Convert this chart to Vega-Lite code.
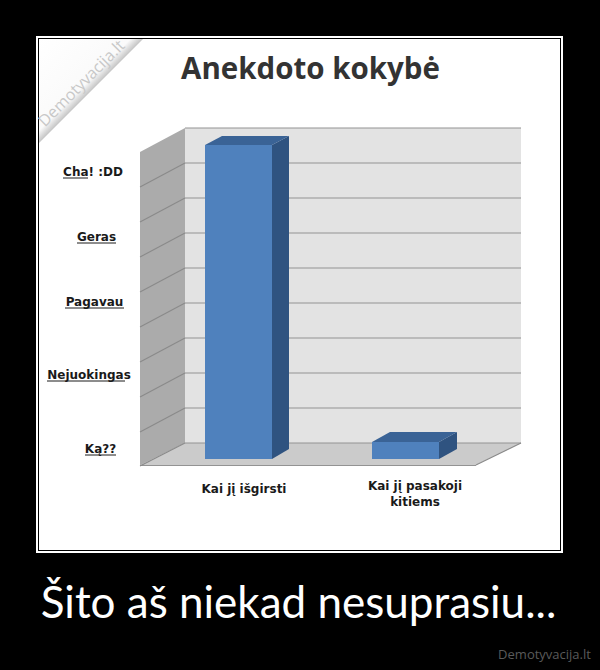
{"$schema":"https://vega.github.io/schema/vega-lite/v6.json","width":600,"height":670,"padding":0,"autosize":{"type":"fit","contains":"padding"},"background":"#000000","config":{"view":{"stroke":null}},"resolve":{"scale":{"y":"independent"}},
"encoding":{"x":{"field":"x","type":"quantitative","axis":null,"scale":{"domain":[0,600],"nice":false,"zero":false}}},
"layer":[
{"data":{"values":[{"x":36,"x1":563,"y":36,"y1":553}]},"mark":{"type":"rect","color":"#ffffff"},"encoding":{"x2":{"field":"x1"},"y":{"field":"y","type":"quantitative","axis":null,"scale":{"domain":[0,670],"reverse":true,"nice":false,"zero":false}},"y2":{"field":"y1"}}},
{"data":{"values":[{"x":38,"x1":561,"y":38,"y1":551}]},"mark":{"type":"rect","color":"#000000"},"encoding":{"x2":{"field":"x1"},"y":{"field":"y","type":"quantitative","axis":null,"scale":{"domain":[0,670],"reverse":true,"nice":false,"zero":false}},"y2":{"field":"y1"}}},
{"data":{"values":[{"x":39,"x1":560,"y":39,"y1":550}]},"mark":{"type":"rect","color":"#ffffff"},"encoding":{"x2":{"field":"x1"},"y":{"field":"y","type":"quantitative","axis":null,"scale":{"domain":[0,670],"reverse":true,"nice":false,"zero":false}},"y2":{"field":"y1"}}},
{"data":{"values":[{"x":39,"y":39,"y1":143},{"x":143,"y":39,"y1":39}]},"mark":{"type":"area","color":{"gradient":"linear","x1":0,"y1":0,"x2":1,"y2":1,"stops":[{"offset":0,"color":"#ffffff"},{"offset":0.44,"color":"#fafafa"},{"offset":0.5,"color":"#c4c4c4"},{"offset":1,"color":"#c4c4c4"}]}},"encoding":{"y":{"field":"y","type":"quantitative","axis":null,"scale":{"domain":[0,670],"reverse":true,"nice":false,"zero":false}},"y2":{"field":"y1"}}},
{"data":{"values":[{"x":185,"x1":521,"y":128,"y1":443}]},"mark":{"type":"rect","color":"#e3e3e3"},"encoding":{"x2":{"field":"x1"},"y":{"field":"y","type":"quantitative","axis":null,"scale":{"domain":[0,670],"reverse":true,"nice":false,"zero":false}},"y2":{"field":"y1"}}},
{"data":{"values":[{"x":140,"y":152,"y1":466},{"x":185,"y":128,"y1":443}]},"mark":{"type":"area","color":"#ababab"},"encoding":{"y":{"field":"y","type":"quantitative","axis":null,"scale":{"domain":[0,670],"reverse":true,"nice":false,"zero":false}},"y2":{"field":"y1"}}},
{"data":{"values":[{"x":185,"x1":521,"y":443},{"x":140,"x1":476,"y":465}]},"mark":{"type":"area","orient":"horizontal","color":"#cbcbcb"},"encoding":{"x2":{"field":"x1"},"y":{"field":"y","type":"quantitative","axis":null,"scale":{"domain":[0,670],"reverse":true,"nice":false,"zero":false}}}},
{"data":{"values":[{"x":185,"x1":521,"y":128},{"x":185,"x1":521,"y":163},{"x":185,"x1":521,"y":198},{"x":185,"x1":521,"y":233},{"x":185,"x1":521,"y":268},{"x":185,"x1":521,"y":303},{"x":185,"x1":521,"y":338},{"x":185,"x1":521,"y":373},{"x":185,"x1":521,"y":408},{"x":185,"x1":521,"y":443},{"x":140,"x1":476,"y":465.5}]},"mark":{"type":"rule","color":"#939393","strokeWidth":1.2},"encoding":{"x2":{"field":"x1"},"y":{"field":"y","type":"quantitative","axis":null,"scale":{"domain":[0,670],"reverse":true,"nice":false,"zero":false}}}},
{"data":{"values":[{"x":140,"x1":185,"y":187,"y1":163},{"x":140,"x1":185,"y":222,"y1":198},{"x":140,"x1":185,"y":257,"y1":233},{"x":140,"x1":185,"y":292,"y1":268},{"x":140,"x1":185,"y":327,"y1":303},{"x":140,"x1":185,"y":362,"y1":338},{"x":140,"x1":185,"y":397,"y1":373},{"x":140,"x1":185,"y":432,"y1":408},{"x":140,"x1":185,"y":466,"y1":443},{"x":476,"x1":521,"y":465,"y1":443}]},"mark":{"type":"rule","color":"#8a8a8a","strokeWidth":1.1},"encoding":{"x2":{"field":"x1"},"y":{"field":"y","type":"quantitative","axis":null,"scale":{"domain":[0,670],"reverse":true,"nice":false,"zero":false}},"y2":{"field":"y1"}}},
{"data":{"values":[{"category":"Kai jį išgirsti","x":272,"value":8.97,"base":0},{"category":"Kai jį išgirsti","x":289,"value":9.23,"base":0.286},{"category":"Kai jį pasakoji kitiems","x":439,"value":0.486,"base":0},{"category":"Kai jį pasakoji kitiems","x":457,"value":0.771,"base":0.286}]},"mark":{"type":"area","color":"#2f5380"},"encoding":{"detail":{"field":"category"},"y":{"field":"value","type":"quantitative","axis":null,"scale":{"domain":[13.114,-6.029],"reverse":true,"nice":false,"zero":false}},"y2":{"field":"base"}}},
{"data":{"values":[{"category":"Kai jį išgirsti","x":205,"x1":272,"value":8.97},{"category":"Kai jį išgirsti","x":222,"x1":289,"value":9.23},{"category":"Kai jį pasakoji kitiems","x":372,"x1":439,"value":0.486},{"category":"Kai jį pasakoji kitiems","x":390,"x1":457,"value":0.771}]},"mark":{"type":"area","orient":"horizontal","color":"#3a6396"},"encoding":{"detail":{"field":"category"},"x2":{"field":"x1"},"y":{"field":"value","type":"quantitative","axis":null,"scale":{"domain":[13.114,-6.029],"reverse":true,"nice":false,"zero":false}}}},
{"data":{"values":[{"category":"Kai jį išgirsti","x":205,"x1":272,"value":8.97,"base":0},{"category":"Kai jį pasakoji kitiems","x":372,"x1":439,"value":0.486,"base":0}]},"mark":{"type":"rect","color":"#4f81bd"},"encoding":{"x2":{"field":"x1"},"y":{"field":"value","type":"quantitative","axis":null,"scale":{"domain":[13.114,-6.029],"reverse":true,"nice":false,"zero":false}},"y2":{"field":"base"}}},
{"data":{"values":[{"x":63,"x1":88,"y":178},{"x":77,"x1":116,"y":243},{"x":65,"x1":124,"y":308},{"x":47,"x1":125,"y":381},{"x":85,"x1":116,"y":455}]},"mark":{"type":"rule","color":"#1a1a1a","strokeWidth":1},"encoding":{"x2":{"field":"x1"},"y":{"field":"y","type":"quantitative","axis":null,"scale":{"domain":[0,670],"reverse":true,"nice":false,"zero":false}}}},
{"data":{"values":[{"x":93,"y":175.5,"t":"Cha! :DD"},{"x":96.5,"y":240.5,"t":"Geras"},{"x":94.5,"y":305.5,"t":"Pagavau"},{"x":89,"y":378.5,"t":"Nejuokingas"},{"x":100.5,"y":452.5,"t":"Ką??"},{"x":244,"y":493,"t":"Kai jį išgirsti"},{"x":415,"y":490,"t":"Kai jį pasakoji"},{"x":415,"y":506,"t":"kitiems"}]},"mark":{"type":"text","font":"DejaVu Sans","fontWeight":"bold","fontSize":12,"color":"#1a1a1a","align":"center","baseline":"alphabetic"},"encoding":{"text":{"field":"t"},"y":{"field":"y","type":"quantitative","axis":null,"scale":{"domain":[0,670],"reverse":true,"nice":false,"zero":false}}}},
{"data":{"values":[{"x":310.5,"y":79,"t":"Anekdoto kokybė"}]},"mark":{"type":"text","font":"Open Sans","fontWeight":"bold","fontSize":29.5,"color":"#333333","align":"center","baseline":"alphabetic"},"encoding":{"text":{"field":"t"},"y":{"field":"y","type":"quantitative","axis":null,"scale":{"domain":[0,670],"reverse":true,"nice":false,"zero":false}}}},
{"data":{"values":[{"x":85.5,"y":87,"t":"Demotyvacija.lt"}]},"mark":{"type":"text","font":"Open Sans","fontSize":16,"angle":-45,"color":"#c8c8c8","align":"center","baseline":"alphabetic"},"encoding":{"text":{"field":"t"},"y":{"field":"y","type":"quantitative","axis":null,"scale":{"domain":[0,670],"reverse":true,"nice":false,"zero":false}}}},
{"data":{"values":[{"x":298.5,"y":618,"t":"Šito aš niekad nesuprasiu..."}]},"mark":{"type":"text","font":"Lato","fontSize":44,"color":"#ffffff","align":"center","baseline":"alphabetic"},"encoding":{"text":{"field":"t"},"y":{"field":"y","type":"quantitative","axis":null,"scale":{"domain":[0,670],"reverse":true,"nice":false,"zero":false}}}},
{"data":{"values":[{"x":544.5,"y":659,"t":"Demotyvacija.lt"}]},"mark":{"type":"text","font":"Open Sans","fontSize":13,"color":"#5a5a5a","align":"center","baseline":"alphabetic"},"encoding":{"text":{"field":"t"},"y":{"field":"y","type":"quantitative","axis":null,"scale":{"domain":[0,670],"reverse":true,"nice":false,"zero":false}}}}
]}
